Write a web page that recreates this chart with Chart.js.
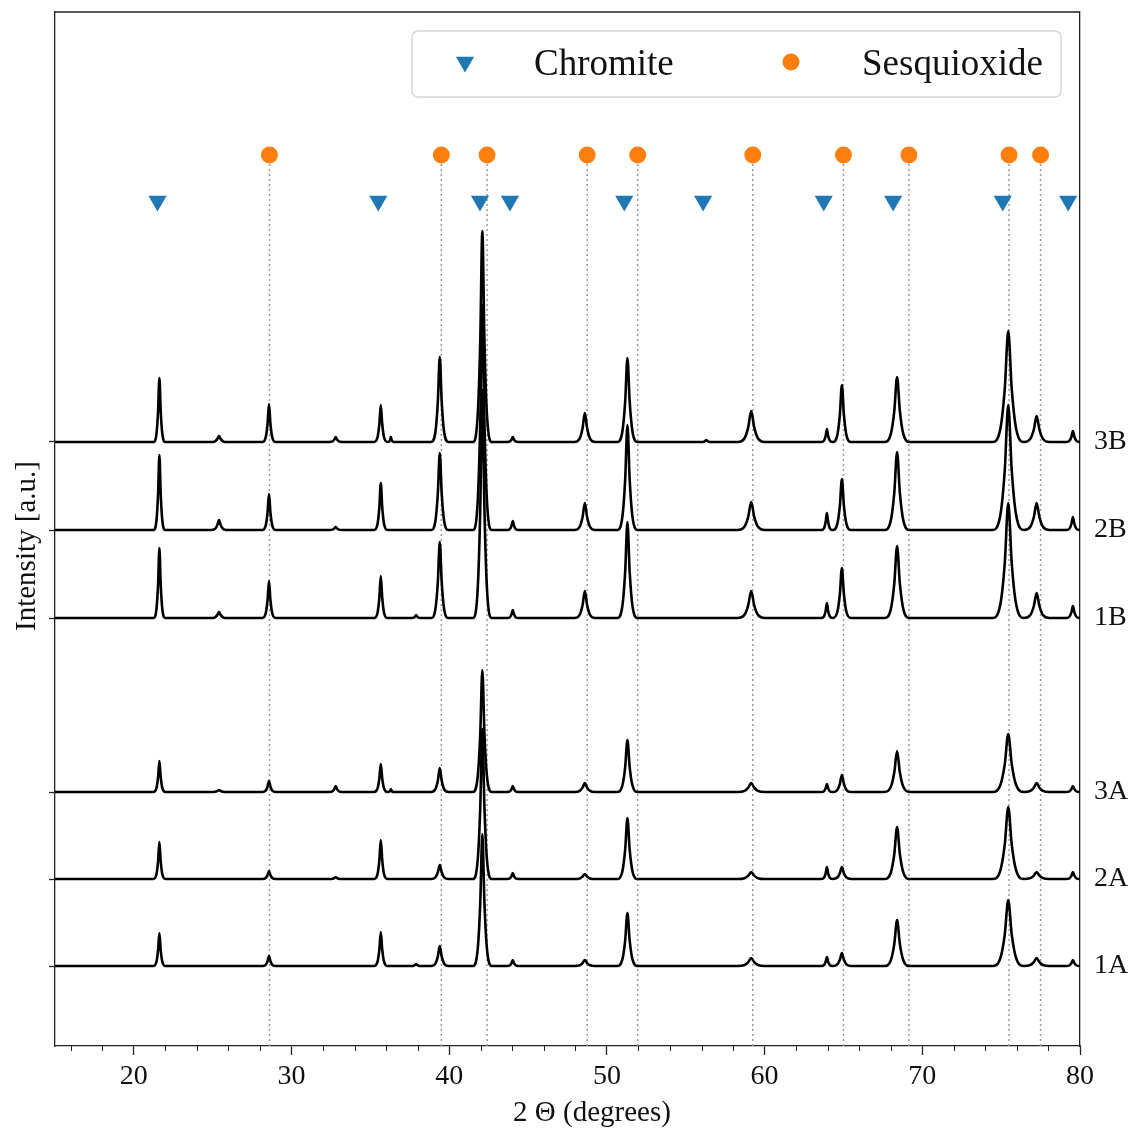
<!DOCTYPE html>
<html>
<head>
<meta charset="utf-8">
<script src="https://cdn.jsdelivr.net/npm/chart.js@4.4.1/dist/chart.umd.min.js"></script>
<style>
  html, body { margin: 0; padding: 0; background: #fff; }
  #wrap { width: 1131px; height: 1131px; }
</style>
</head>
<body>
<div id="wrap"><canvas id="xrd" width="1131" height="1131"></canvas></div>
<script>
// XRD patterns - peak positions (2 theta) shared by all samples
const peakPos   = [21.62, 25.4, 28.57, 32.8, 35.66, 36.3, 37.9, 39.4, 42.1, 44.03, 48.6, 51.3, 56.3, 59.15, 63.95, 64.9, 68.4, 75.45, 77.25, 79.55];
const peakWidth = [0.38, 0.5, 0.42, 0.4, 0.42, 0.2, 0.3, 0.55, 0.6, 0.35, 0.65, 0.65, 0.3, 0.85, 0.35, 0.58, 0.8, 1.0, 0.8, 0.42];

// peak heights per sample (a.u.), same order as peakPos
const h1A = [33, 0, 10, 0, 34, 0, 2, 20, 132, 6, 6, 53, 0, 8, 9, 13, 46, 66, 8, 6];
const h2A = [37, 0, 8, 2, 39, 0, 0, 14, 150, 6, 5, 61, 0, 7, 12, 12, 52, 72, 7, 7];
const h3A = [31, 2, 11, 6, 28, 3, 0, 24, 122, 6, 9, 52, 0, 9, 8, 17, 41, 58, 9, 6];
const h1B = [70, 6, 37, 0, 42, 0, 3, 76, 228, 8, 27, 96, 0, 27, 15, 50, 72, 115, 25, 12];
const h2B = [75, 10, 36, 3, 47, 0, 0, 77, 225, 9, 27, 105, 0, 28, 17, 51, 78, 125, 27, 13];
const h3B = [64, 6, 38, 5, 37, 5, 0, 85, 211, 5, 29, 84, 2, 31, 13, 57, 65, 111, 26, 11];

const sampleNames   = ["1A", "2A", "3A", "1B", "2B", "3B"];
const sampleHeights = [h1A, h2A, h3A, h1B, h2B, h3B];
const sampleOffsets = [80, 167, 254, 428, 516, 604];

// reference phase positions
const chromitePos    = [21.5, 35.5, 41.95, 43.85, 51.1, 56.1, 63.75, 68.15, 75.1, 79.25];
const sesquioxidePos = [28.6, 39.5, 42.4, 48.75, 51.95, 59.25, 65.0, 69.15, 75.5, 77.5];
const chromiteLevel    = 845;
const sesquioxideLevel = 891;

const xMajorTicks = [20, 30, 40, 50, 60, 70, 80];
const xMinorTicks = [16, 18, 22, 24, 26, 28, 32, 34, 36, 38, 42, 44, 46, 48, 52, 54, 56, 58, 62, 64, 66, 68, 72, 74, 76, 78];

const serif = "'Liberation Serif', 'DejaVu Serif', serif";
const axisColor = "#222";

// peak outline (fraction of half width / fraction of height)
const shapeDx   = [-1, -0.5, -0.22, 0, 0.22, 0.5, 1];
const shapeFrac = [0, 0.12, 0.48, 1, 0.48, 0.12, 0];

function tracePoints(heights, offset) {
  const pts = [{ x: 15, y: offset }];
  peakPos.forEach((c, i) => {
    if (!heights[i]) return;
    shapeDx.forEach((d, k) => {
      pts.push({ x: c + d * peakWidth[i], y: offset + heights[i] * shapeFrac[k] });
    });
  });
  pts.push({ x: 80, y: offset });
  return pts;
}

// dotted guide lines under the sesquioxide markers
const guidePoints = [];
sesquioxidePos.forEach(x => {
  guidePoints.push({ x: x, y: 0 }, { x: x, y: sesquioxideLevel - 8 }, { x: x, y: null });
});

const traceSets = sampleNames.map((name, i) => ({
  label: name,
  data: tracePoints(sampleHeights[i], sampleOffsets[i]),
  borderColor: "#000",
  borderWidth: 2.6,
  pointRadius: 0,
  cubicInterpolationMode: "monotone",
  order: 2,
}));

const extras = {
  id: "extras",
  afterDraw(chart) {
    const { ctx, chartArea, scales } = chart;
    ctx.save();
    // top spine
    ctx.strokeStyle = axisColor;
    ctx.lineWidth = 1.3;
    ctx.beginPath();
    ctx.moveTo(chartArea.left, chartArea.top);
    ctx.lineTo(chartArea.right, chartArea.top);
    ctx.stroke();
    // minor ticks
    ctx.lineWidth = 1;
    xMinorTicks.forEach(v => {
      const px = Math.round(scales.x.getPixelForValue(v)) + 0.5;
      ctx.beginPath();
      ctx.moveTo(px, chartArea.bottom);
      ctx.lineTo(px, chartArea.bottom + 5);
      ctx.stroke();
    });
    // axis titles
    ctx.fillStyle = "#111";
    ctx.font = "29px " + serif;
    ctx.textAlign = "center";
    ctx.textBaseline = "middle";
    ctx.fillText("2 \u0398 (degrees)", 592, 1113);
    ctx.save();
    ctx.translate(27, 546);
    ctx.rotate(-Math.PI / 2);
    ctx.fillText("Intensity [a.u.]", 0, 0);
    ctx.restore();

    // legend box
    const bx = 412, by = 31, bw = 649, bh = 66, r = 6;
    ctx.beginPath();
    ctx.moveTo(bx + r, by);
    ctx.arcTo(bx + bw, by, bx + bw, by + bh, r);
    ctx.arcTo(bx + bw, by + bh, bx, by + bh, r);
    ctx.arcTo(bx, by + bh, bx, by, r);
    ctx.arcTo(bx, by, bx + bw, by, r);
    ctx.closePath();
    ctx.fillStyle = "rgba(255,255,255,0.9)";
    ctx.fill();
    ctx.strokeStyle = "#d6d6d6";
    ctx.lineWidth = 1.5;
    ctx.stroke();

    const items = chart.data.datasets.filter(d => d.legendItem);
    const slots = [{ mx: 465, tx: 534 }, { mx: 791, tx: 862 }];
    items.forEach((d, i) => {
      ctx.fillStyle = d.backgroundColor;
      Chart.helpers.drawPoint(ctx, {
        pointStyle: d.pointStyle,
        rotation: d.pointRotation || 0,
        radius: d.pointRadius,
        borderWidth: 0,
      }, slots[i].mx, 62);
      ctx.fillStyle = "#111";
      ctx.font = "37px " + serif;
      ctx.textAlign = "left";
      ctx.textBaseline = "alphabetic";
      ctx.fillText(d.label, slots[i].tx, 75);
    });
    ctx.restore();
  },
};

new Chart(document.getElementById("xrd"), {
  type: "line",
  data: {
    datasets: [
      {
        label: "guides",
        data: guidePoints,
        borderColor: "#9a9a9a",
        borderWidth: 1.5,
        borderDash: [2, 3],
        pointRadius: 0,
        tension: 0,
        order: 3,
      },
      ...traceSets,
      {
        label: "Chromite",
        legendItem: true,
        data: chromitePos.map(x => ({ x: x, y: chromiteLevel })),
        showLine: false,
        pointStyle: "triangle",
        pointRotation: 180,
        pointRadius: 10.5,
        pointBorderWidth: 0,
        backgroundColor: "#1f77b4",
        borderColor: "#1f77b4",
        order: 1,
      },
      {
        label: "Sesquioxide",
        legendItem: true,
        data: sesquioxidePos.map(x => ({ x: x, y: sesquioxideLevel })),
        showLine: false,
        pointStyle: "circle",
        pointRadius: 8.5,
        pointBorderWidth: 0,
        backgroundColor: "#ff7f0e",
        borderColor: "#ff7f0e",
        order: 1,
      },
    ],
  },
  options: {
    responsive: false,
    animation: false,
    layout: { padding: { top: 12, left: 49, right: 0, bottom: 0 } },
    plugins: { legend: { display: false }, tooltip: { enabled: false } },
    scales: {
      x: {
        type: "linear",
        min: 15,
        max: 80,
        afterBuildTicks: s => { s.ticks = xMajorTicks.map(v => ({ value: v })); },
        afterFit: s => { s.height = 85; s.paddingLeft = 0; s.paddingRight = 0; },
        grid: { display: true, drawOnChartArea: false, drawTicks: true, tickLength: 9, tickColor: axisColor, tickWidth: 1.3 },
        border: { display: true, color: axisColor, width: 1.3 },
        ticks: { font: { family: serif, size: 28 }, color: "#111", padding: 5, maxRotation: 0 },
      },
      y: {
        type: "linear",
        min: 0,
        max: 1034,
        afterBuildTicks: s => { s.ticks = sampleOffsets.map(v => ({ value: v })); },
        afterFit: s => { s.width = 6; s.paddingTop = 0; s.paddingBottom = 0; },
        grid: { display: true, drawOnChartArea: false, drawTicks: true, tickLength: 6, tickColor: axisColor, tickWidth: 1.3 },
        border: { display: true, color: axisColor, width: 1.3 },
        ticks: { display: false },
      },
      yR: {
        type: "linear",
        position: "right",
        min: 0,
        max: 1034,
        afterBuildTicks: s => { s.ticks = sampleOffsets.map(v => ({ value: v })); },
        afterFit: s => { s.width = 51; s.paddingTop = 0; s.paddingBottom = 0; },
        grid: { display: false, drawTicks: false },
        border: { display: true, color: axisColor, width: 1.3 },
        ticks: {
          callback: (v, i) => sampleNames[i],
          font: { family: serif, size: 28 },
          color: "#111",
          padding: 14,
          autoSkip: false,
        },
      },
    },
  },
  plugins: [extras],
});
</script>
</body>
</html>
